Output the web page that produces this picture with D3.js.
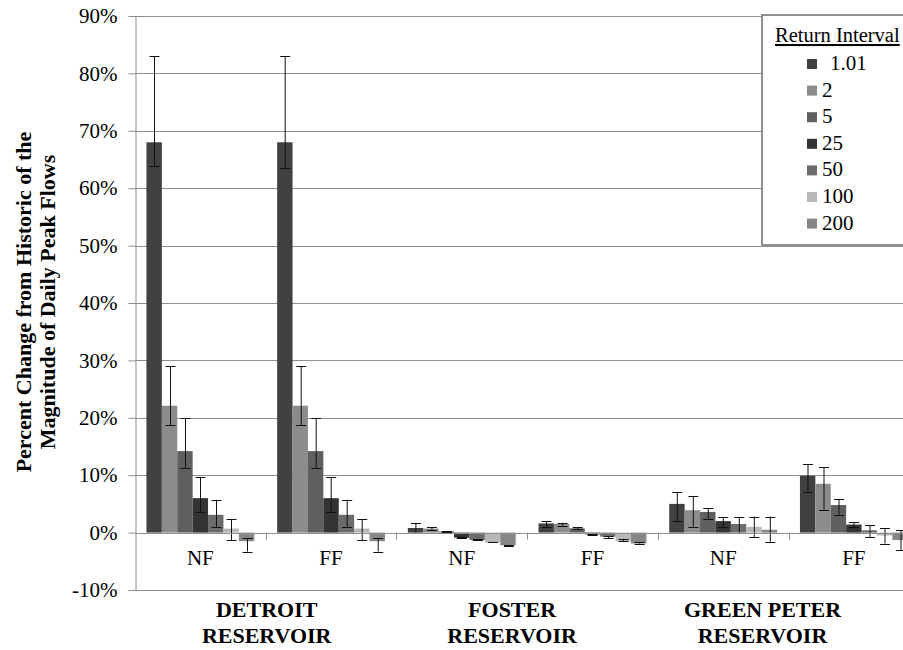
<!DOCTYPE html>
<html lang="en">
<head>
  <meta charset="UTF-8">
  <title>Peak flow change</title>
  <script src="https://d3js.org/d3.v7.min.js"></script>
  <style>
    body { margin: 0; background: #fff; }
    text { font-family: "Liberation Serif", "Times New Roman", serif; fill: #000; }
  </style>
</head>
<body>
  <script>
    // categories
    const reservoirs = ['DETROIT RESERVOIR', 'FOSTER RESERVOIR', 'GREEN PETER RESERVOIR'];
    const scenarios = ['NF', 'FF'];
    const intervals = ['1.01', '2', '5', '25', '50', '100', '200'];
    const yTicks = [-10, 0, 10, 20, 30, 40, 50, 60, 70, 80, 90];

    // percent change, one array per reservoir/scenario, ordered like intervals
    const detroitNF = [68.0, 22.1, 14.2, 6.0, 3.1, 0.7, -1.5];
    const detroitFF = [68.0, 22.1, 14.2, 6.0, 3.1, 0.7, -1.5];
    const fosterNF = [0.8, 0.7, 0.2, -0.9, -1.3, -1.7, -2.2];
    const fosterFF = [1.6, 1.5, 0.75, -0.3, -0.7, -1.5, -1.9];
    const greenNF = [5.0, 3.9, 3.6, 2.0, 1.5, 1.0, 0.5];
    const greenFF = [9.9, 8.5, 4.8, 1.4, 0.4, -0.5, -1.3];

    // error bar ends (upper / lower)
    const detroitNFHi = [83.0, 29.0, 20.0, 9.6, 5.7, 2.3, -1.0];
    const detroitNFLo = [63.8, 18.7, 11.3, 3.6, 1.0, -1.3, -3.3];
    const detroitFFHi = [83.0, 29.0, 20.0, 9.6, 5.7, 2.3, -1.0];
    const detroitFFLo = [63.5, 18.7, 11.3, 3.6, 1.0, -1.3, -3.3];
    const fosterNFHi = [1.7, 0.9, 0.3, -0.7, -1.1, -1.6, -2.1];
    const fosterNFLo = [0.0, 0.5, 0.1, -1.0, -1.3, -1.7, -2.3];
    const fosterFFHi = [2.0, 1.7, 0.9, -0.2, -0.6, -1.1, -1.7];
    const fosterFFLo = [1.0, 1.2, 0.6, -0.5, -1.0, -1.5, -1.9];
    const greenNFHi = [7.0, 6.4, 4.2, 2.7, 2.7, 2.8, 2.8];
    const greenNFLo = [2.0, 1.0, 2.4, 1.0, 0.0, -0.75, -1.6];
    const greenFFHi = [11.9, 11.4, 5.8, 1.8, 1.3, 0.8, 0.4];
    const greenFFLo = [7.1, 4.0, 3.1, 0.9, -0.8, -1.9, -3.0];

    const colors = ['#414141', '#8c8c8c', '#5f5f5f', '#333333', '#6b6b6b', '#b8b8b8', '#878787'];

    const groups = [
      { res: 0, sc: 'NF', v: detroitNF, hi: detroitNFHi, lo: detroitNFLo },
      { res: 0, sc: 'FF', v: detroitFF, hi: detroitFFHi, lo: detroitFFLo },
      { res: 1, sc: 'NF', v: fosterNF, hi: fosterNFHi, lo: fosterNFLo },
      { res: 1, sc: 'FF', v: fosterFF, hi: fosterFFHi, lo: fosterFFLo },
      { res: 2, sc: 'NF', v: greenNF, hi: greenNFHi, lo: greenNFLo },
      { res: 2, sc: 'FF', v: greenFF, hi: greenFFHi, lo: greenFFLo }
    ];
    groups.forEach((g, i) => g.key = 'g' + i);

    const W = 903, H = 650;
    const plotL = 135, plotR = 919.2, plotT = 16, plotB = 590;

    const svg = d3.select('body').append('svg')
      .attr('width', W).attr('height', H);

    const y = d3.scaleLinear().domain([-10, 90]).range([plotB, plotT]);
    const x0 = d3.scaleBand().domain(groups.map(g => g.key)).range([plotL, plotR]);
    const x1 = d3.scaleBand().domain(intervals).range([0, x0.bandwidth()])
      .paddingInner(0).paddingOuter(0.743);

    // gridlines
    svg.append('g').selectAll('line')
      .data(yTicks)
      .enter().append('line')
      .attr('x1', plotL).attr('x2', W)
      .attr('y1', d => Math.round(y(d)) + 0.5)
      .attr('y2', d => Math.round(y(d)) + 0.5)
      .attr('stroke', '#8e8e8e');

    // y axis
    const yAxis = svg.append('g')
      .attr('transform', `translate(${plotL + 0.5},0)`)
      .call(d3.axisLeft(y).tickValues(yTicks).tickSize(7).tickPadding(11)
        .tickFormat(d => d + '%'));
    yAxis.select('.domain').attr('stroke', '#8e8e8e');
    yAxis.selectAll('.tick line').attr('stroke', '#8e8e8e');
    yAxis.selectAll('.tick text')
      .style('font-family', '"Liberation Serif", serif')
      .style('font-size', '21px')
      .attr('fill', '#000');

    // bars
    const gSel = svg.append('g').selectAll('g')
      .data(groups)
      .enter().append('g')
      .attr('transform', d => `translate(${x0(d.key)},0)`);

    gSel.selectAll('rect')
      .data(d => d.v.map((v, i) => ({ k: intervals[i], v: v, hi: d.hi[i], lo: d.lo[i], c: colors[i] })))
      .enter().append('rect')
      .attr('x', d => x1(d.k))
      .attr('width', x1.bandwidth())
      .attr('y', d => y(Math.max(0, d.v)))
      .attr('height', d => Math.abs(y(d.v) - y(0)))
      .attr('fill', d => d.c);

    // zero / category axis line with ticks
    svg.append('line')
      .attr('x1', plotL).attr('x2', W)
      .attr('y1', Math.round(y(0)) + 0.5).attr('y2', Math.round(y(0)) + 0.5)
      .attr('stroke', '#8e8e8e');
    svg.append('g').selectAll('line')
      .data(groups.slice(1))
      .enter().append('line')
      .attr('x1', d => Math.round(x0(d.key)) + 0.5)
      .attr('x2', d => Math.round(x0(d.key)) + 0.5)
      .attr('y1', y(0)).attr('y2', y(0) + 7)
      .attr('stroke', '#8e8e8e');

    // error bars
    const errs = gSel.selectAll('g.err')
      .data(d => d.v.map((v, i) => ({ k: intervals[i], hi: d.hi[i], lo: d.lo[i] })))
      .enter().append('g').attr('class', 'err')
      .attr('transform', d => `translate(${Math.round(x1(d.k) + x1.bandwidth() / 2) + 0.5},0)`);
    errs.append('line')
      .attr('y1', d => y(d.hi)).attr('y2', d => y(d.lo))
      .attr('stroke', '#111');
    errs.append('line')
      .attr('x1', -5).attr('x2', 5)
      .attr('y1', d => Math.round(y(d.hi)) + 0.5).attr('y2', d => Math.round(y(d.hi)) + 0.5)
      .attr('stroke', '#111');
    errs.append('line')
      .attr('x1', -5).attr('x2', 5)
      .attr('y1', d => Math.round(y(d.lo)) + 0.5).attr('y2', d => Math.round(y(d.lo)) + 0.5)
      .attr('stroke', '#111');

    // NF / FF labels
    svg.append('g').selectAll('text')
      .data(groups)
      .enter().append('text')
      .attr('x', d => x0(d.key) + x0.bandwidth() / 2)
      .attr('y', 565)
      .attr('text-anchor', 'middle')
      .style('font-size', '21px')
      .text(d => d.sc);

    // reservoir labels (Excel pulls the later ones left)
    const resShift = [1, -15, -26];
    const resLabels = svg.append('g').selectAll('text')
      .data(reservoirs)
      .enter().append('text')
      .attr('text-anchor', 'middle')
      .style('font-size', '22px')
      .style('font-weight', 'bold')
      .attr('transform', (d, i) => `translate(${x0('g' + i * 2) + x0.bandwidth() + resShift[i]},617)`);
    resLabels.each(function (d) {
      const words = d.split(' ');
      const first = words.slice(0, -1).join(' ');
      d3.select(this).append('tspan').attr('x', 0).attr('y', 0).text(first);
      d3.select(this).append('tspan').attr('x', 0).attr('y', 26).text(words[words.length - 1]);
    });

    // y title
    const yt = svg.append('text')
      .attr('transform', 'translate(31,302) rotate(-90)')
      .attr('text-anchor', 'middle')
      .style('font-size', '22px')
      .style('font-weight', 'bold');
    yt.append('tspan').attr('x', 0).attr('y', 0).text('Percent Change from Historic of the');
    yt.append('tspan').attr('x', 0).attr('y', 24).text('Magnitude of Daily Peak Flows');

    // legend
    const leg = svg.append('g').attr('transform', 'translate(762,15)');
    leg.append('rect')
      .attr('x', 0).attr('y', 0).attr('width', 160).attr('height', 230)
      .attr('fill', '#fff').attr('stroke', '#6e6e6e').attr('stroke-width', 1.5);
    leg.append('text')
      .attr('x', 13).attr('y', 27)
      .style('font-size', '20.5px')
      .style('text-decoration', 'underline')
      .text('Return Interval');
    const items = leg.selectAll('g.item')
      .data(intervals)
      .enter().append('g').attr('class', 'item')
      .attr('transform', (d, i) => `translate(45,${55 + i * 26.6})`);
    items.append('rect')
      .attr('x', 0).attr('y', -11).attr('width', 10).attr('height', 10)
      .attr('fill', (d, i) => colors[i]);
    items.append('text')
      .attr('x', (d, i) => i === 0 ? 23 : 15)
      .attr('y', 0)
      .style('font-size', '21px')
      .text(d => d);
  </script>
</body>
</html>
